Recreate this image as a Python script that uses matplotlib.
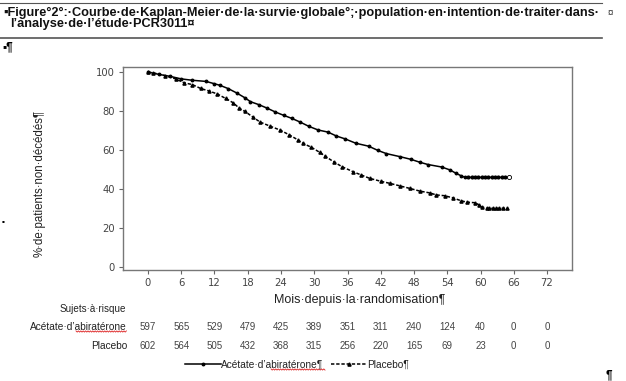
import numpy as np
import matplotlib
matplotlib.use("Agg")
import matplotlib.pyplot as plt
import matplotlib.transforms as mtransforms
from matplotlib.lines import Line2D

W, H = 626, 381

# Kaplan-Meier knots (months, % alive)
abi_months = [0, 2, 4, 6, 8, 10.5, 12, 13, 14.5, 16, 17.5, 18.5, 20, 21.5, 23,
              24.5, 26, 27.5, 29, 30.7, 32.5, 34, 35.5, 37.5, 39.8, 41.5, 43,
              45.5, 47.5, 49, 50.5, 53, 54.5, 55.5, 56.5, 57.2, 65.2]
abi_surv = [100, 98.8, 97.8, 96.5, 95.8, 95.2, 94.0, 93.2, 91.5, 89.3, 86.8,
            84.8, 83.3, 81.5, 79.5, 77.8, 76.2, 74.3, 72.2, 70.3, 69.2, 67.2,
            65.8, 63.5, 62.0, 59.8, 58.2, 56.6, 55.2, 53.8, 52.6, 51.3, 49.8,
            48.2, 46.8, 46.0, 46.0]
abi_censor = [57.8, 58.4, 59.0, 59.6, 60.2, 60.8, 61.4, 62.0, 62.6, 63.2,
              63.8, 64.4]

pla_months = [0, 1, 3, 5, 6.5, 8, 9.5, 11, 12.5, 14, 15.4, 16.5, 17.5, 19,
              20.2, 22, 23.8, 25.5, 27, 28, 29.5, 31, 32, 33.5, 35, 37, 38.5,
              40, 42, 43.7, 45.5, 47.3, 49, 50.9, 52, 53.5, 55, 56.5, 57.5,
              59, 59.8, 60.2, 61.1, 64.7]
pla_surv = [100, 99.6, 98.2, 96.5, 94.5, 93.6, 91.6, 90.3, 88.8, 86.5, 84.2,
            81.4, 79.8, 76.8, 74.4, 72.3, 70.3, 67.8, 65.3, 63.4, 61.4, 58.8,
            56.8, 54.0, 51.5, 48.9, 47.2, 45.5, 44.0, 42.9, 41.6, 40.3, 39.0,
            38.0, 37.0, 36.6, 35.5, 34.0, 33.3, 33.0, 31.8, 30.9, 30.1, 30.1]
pla_censor = [61.6, 62.2, 62.8, 63.4, 64.0]

x_ticks = [0, 6, 12, 18, 24, 30, 36, 42, 48, 54, 60, 66, 72]
y_ticks = [0, 20, 40, 60, 80, 100]
risk_abi = [597, 565, 529, 479, 425, 389, 351, 311, 240, 124, 40, 0, 0]
risk_pla = [602, 564, 505, 432, 368, 315, 256, 220, 165, 69, 23, 0, 0]

SANS = ["Liberation Sans", "DejaVu Sans"]
plt.rcParams["font.family"] = SANS


def fx(x):
    return x / W


def fy(y):
    return 1 - y / H


fig = plt.figure(figsize=(W / 100, H / 100), dpi=100)
ax = fig.add_axes([fx(123), fy(270), (572 - 123) / W, (270 - 67) / H])

l_abi, = ax.plot(abi_months, abi_surv, color="black", lw=1.1, marker="o",
                 ms=1.8, label="Acétate·d’abiratérone¶")
ax.plot(abi_censor, [abi_surv[-1]] * len(abi_censor), ls="none", marker="o",
        ms=2.0, color="black")
ax.plot([abi_months[-1]], [abi_surv[-1]], ls="none", marker="o", ms=3,
        mfc="white", mec="black", mew=0.6)

l_pla, = ax.plot(pla_months, pla_surv, color="black", lw=1.1,
                 ls=(0, (2.2, 1.2)), marker="^", ms=2.3, label="Placebo¶")
ax.plot(pla_censor, [pla_surv[-1]] * len(pla_censor), ls="none", marker="^",
        ms=2.3, color="black")

ax.set_xlim(-4.5, 76.5)
ax.set_ylim(-1.5, 102.6)
ax.set_xticks(x_ticks)
ax.set_yticks(y_ticks)
ax.tick_params(direction="out", length=3, width=0.8, color="#666666",
               labelcolor="#444444", labelsize=7.2, pad=3)
for lab in ax.get_xticklabels() + ax.get_yticklabels():
    lab.set_family("DejaVu Sans")
for sp in ax.spines.values():
    sp.set_color("#777777")
    sp.set_linewidth(1.0)

# document header
fig.text(fx(3), fy(12.5), "▪Figure°2°:·Courbe·de·Kaplan-Meier·de·la·survie·globale°;·population·en·intention·de·traiter·dans·",
         fontsize=9.2, fontweight="bold", va="center", ha="left", color="#111111")
fig.text(fx(607), fy(12.5), "¤", fontsize=7, va="center", ha="left", color="#333333")
fig.text(fx(10), fy(24.5), "l’analyse·de·l’étude·PCR3011¤",
         fontsize=9.2, fontweight="bold", va="center", ha="left", color="#111111")
fig.add_artist(Line2D([0, fx(602)], [fy(2.5), fy(2.5)], color="#555555", lw=0.8))
fig.add_artist(Line2D([0, fx(602)], [fy(38), fy(38)], color="#555555", lw=1.2))
fig.text(fx(2), fy(47), "▪¶", fontsize=8.5, fontweight="bold", va="center", ha="left")
fig.text(fx(2), fy(222), "▪", fontsize=6, va="center", ha="left")
fig.text(fx(606), fy(375), "¶", fontsize=8.5, fontweight="bold", va="center", ha="left")

# axis labels
fig.text(fx(40), fy(183), "%·de·patients·non·décédés¶", rotation=90,
         fontsize=8.3, va="center", ha="center", color="#222222")
fig.text(fx(274), fy(300), "Mois·depuis·la·randomisation¶", fontsize=9.0,
         va="center", ha="left", color="#222222")

# number at risk table
fig.text(fx(126), fy(309), "Sujets·à·risque", fontsize=7.1, ha="right",
         va="center", color="#222222")
fig.text(fx(127), fy(327), "Acétate·d’abiratérone", fontsize=7.3, ha="right",
         va="center", color="#222222")
fig.text(fx(127), fy(346), "Placebo", fontsize=7.3, ha="right", va="center",
         color="#222222")
blend = mtransforms.blended_transform_factory(ax.transData, fig.transFigure)
for t, a, p in zip(x_ticks, risk_abi, risk_pla):
    fig.text(t, fy(327), str(a), transform=blend, fontsize=7, ha="center",
             va="center", color="#444444")
    fig.text(t, fy(346), str(p), transform=blend, fontsize=7, ha="center",
             va="center", color="#444444")


def squiggle(x0, x1, y):
    xs = np.arange(x0, x1, 1.2)
    ys = y + np.where(np.arange(len(xs)) % 2 == 0, -0.6, 0.6)
    fig.add_artist(Line2D(fx(xs), fy(ys), color="#dd2222", lw=0.6))


squiggle(76, 127, 331.5)
squiggle(271, 326, 369.5)

fig.legend(handles=[l_abi, l_pla], loc="center", ncol=2, frameon=False,
           bbox_to_anchor=(fx(297), fy(365)), fontsize=7.3, handlelength=3.6,
           handletextpad=0.0, columnspacing=0.7, numpoints=1,
           borderpad=0, labelcolor="#222222")

fig.savefig("out.png", dpi=100, facecolor="white")
